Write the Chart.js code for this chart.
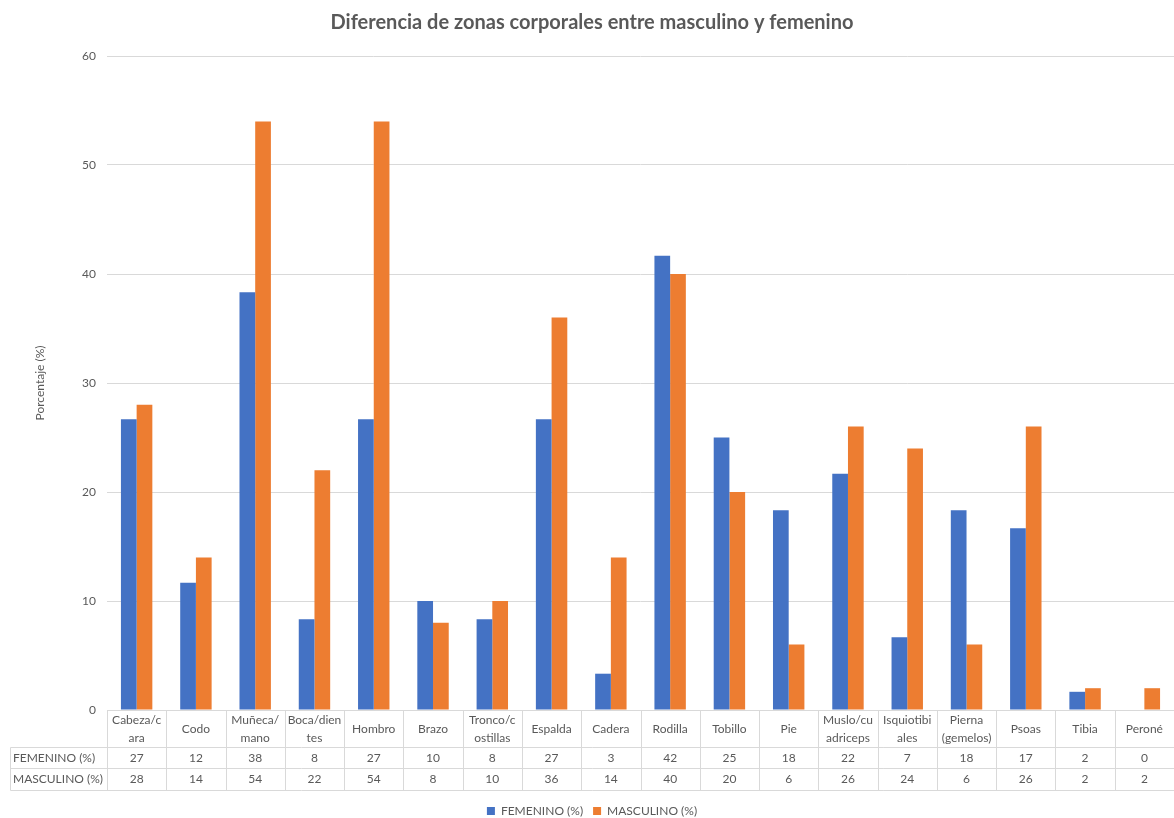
<!DOCTYPE html>
<html>
<head>
<meta charset="utf-8">
<script src="https://cdn.jsdelivr.net/npm/chart.js@4.4.0/dist/chart.umd.min.js"></script>
<style>
html,body{margin:0;padding:0;background:#fff}
#wrap{width:1174px;height:818px}
</style>
</head>
<body>
<div id="wrap"><canvas id="c"></canvas></div>
<script>
const titulo='Diferencia de zonas corporales entre masculino y femenino';
const zonas=[['Cabeza/c','ara'],'Codo',['Muñeca/','mano'],['Boca/dien','tes'],'Hombro','Brazo',['Tronco/c','ostillas'],'Espalda','Cadera','Rodilla','Tobillo','Pie',['Muslo/cu','adriceps'],['Isquiotibi','ales'],['Pierna','(gemelos)'],'Psoas','Tibia','Peroné'];
const femenino=[26.67,11.67,38.33,8.33,26.67,10,8.33,26.67,3.33,41.67,25,18.33,21.67,6.67,18.33,16.67,1.67,0];
const masculino=[28,14,54,22,54,8,10,36,14,40,20,6,26,24,6,26,2,2];
const yMax=60, yStep=10;

const FONT='Lato';
const GRIS='#595959';
const LINEA='#d9d9d9';

// title on top + data table under the plot (Excel style)
const tablaDatos={
  id:'tablaDatos',
  afterDraw(chart){
    const {ctx,chartArea:a}=chart;
    const n=zonas.length, w=(a.right-a.left)/n;
    const t0=Math.round(a.bottom)+0.5, t1=t0+37, t2=t1+21, t3=t2+22;
    const x0=10.5, xl=Math.round(a.left)+0.5, xr=chart.width;
    ctx.save();
    // title
    ctx.fillStyle=GRIS;
    ctx.font='bold 20px '+FONT;
    ctx.textAlign='center';ctx.textBaseline='middle';
    ctx.fillText(titulo,592,23);
    // grid of the table
    ctx.strokeStyle=LINEA;ctx.lineWidth=1;
    ctx.beginPath();
    ctx.moveTo(xl,t0);ctx.lineTo(xr,t0);
    [t1,t2,t3].forEach(y=>{ctx.moveTo(x0,y);ctx.lineTo(xr,y);});
    ctx.moveTo(x0,t1);ctx.lineTo(x0,t3);
    for(let i=0;i<=n;i++){
      const x=Math.round(a.left+i*w)+0.5;
      ctx.moveTo(x,t0);ctx.lineTo(x,t3);
    }
    ctx.stroke();
    // category cells
    ctx.font='12px '+FONT;
    ctx.fillStyle=GRIS;
    zonas.forEach((z,i)=>{
      const cx=a.left+(i+0.5)*w;
      const lines=Array.isArray(z)?z:[z];
      const cy=(t0+t1)/2;
      lines.forEach((s,k)=>ctx.fillText(s,cx,cy+(k-(lines.length-1)/2)*18));
    });
    // value rows
    const rows=[t1,t2];
    const bottoms=[t2,t3];
    chart.data.datasets.forEach((ds,r)=>{
      const cy=(rows[r]+bottoms[r])/2;
      ctx.textAlign='left';
      ctx.fillText(ds.label,13,cy);
      ctx.textAlign='center';
      ds.data.forEach((v,i)=>ctx.fillText(String(Math.round(v)),a.left+(i+0.5)*w,cy));
    });
    ctx.restore();
  }
};

new Chart(document.getElementById('c'),{
  type:'bar',
  data:{
    labels:zonas,
    datasets:[
      {label:'FEMENINO (%)',data:femenino,backgroundColor:'#4472C4'},
      {label:'MASCULINO (%)',data:masculino,backgroundColor:'#ED7D31'}
    ]
  },
  options:{
    responsive:true,
    maintainAspectRatio:false,
    animation:false,
    layout:{padding:{left:10,right:0,top:56,bottom:-9}},
    datasets:{bar:{categoryPercentage:0.53,barPercentage:1}},
    scales:{
      x:{
        ticks:{display:false},
        grid:{display:false},
        border:{display:false},
        afterFit:s=>{s.height=85;}
      },
      y:{
        min:0,max:yMax,
        ticks:{stepSize:yStep,color:GRIS,font:{family:FONT,size:12},padding:11},
        grid:{color:LINEA,drawTicks:false},
        border:{display:false},
        title:{display:true,text:'Porcentaje (%)',color:GRIS,font:{family:FONT,size:12},padding:{top:23,bottom:0}},
        afterFit:s=>{s.width=97;}
      }
    },
    plugins:{
      legend:{
        position:'bottom',
        labels:{boxWidth:8,boxHeight:8,color:GRIS,font:{family:FONT,size:12},padding:10}
      },
      tooltip:{enabled:false}
    }
  },
  plugins:[tablaDatos]
});
</script>
</body>
</html>
